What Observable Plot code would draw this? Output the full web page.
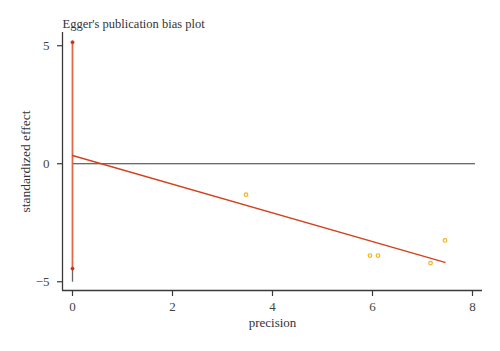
<!DOCTYPE html>
<html>
<head>
<meta charset="utf-8">
<script src="https://cdn.jsdelivr.net/npm/d3@7"></script>
<script src="https://cdn.jsdelivr.net/npm/@observablehq/plot@0.6"></script>
<style>
  html, body { margin: 0; padding: 0; background: #fff; }
  svg { display: block; }
</style>
</head>
<body>
<div id="chart"></div>
<script>
// Study points
const precision = [3.47, 5.95, 6.11, 7.16, 7.45];
const stdEffect = [-1.31, -3.89, -3.89, -4.21, -3.25];
// Egger regression line
const fitX = [0, 7.45];
const fitY = [0.35, -4.18];
// Intercept confidence interval (at precision 0)
const ciX = [0];
const ciLow = [-4.44];
const ciHigh = [5.15];
// Reference line at zero effect
const refX1 = [0];
const refX2 = [8.06];
const refY = [0];
// Ticks
const xTicks = [0, 2, 4, 6, 8];
const yTicks = [-5, 0, 5];
const titleText = "Egger's publication bias plot";
const xLabel = "precision";
const yLabel = "standardized effect";

const xDomain = [-0.2, 8.2];
const yDomain = [-5.37, 5.56];

const points = precision.map((p, i) => ({p, e: stdEffect[i]}));
const fit = fitX.map((x, i) => ({x, y: fitY[i]}));
const ci = ciX.map((x, i) => ({x, lo: ciLow[i], hi: ciHigh[i]}));
const ciEnds = ci.flatMap(d => [{x: d.x, y: d.lo}, {x: d.x, y: d.hi}]);
const ref = refY.map((y, i) => ({y, x1: refX1[i], x2: refX2[i]}));

const axisColor = "#3a3a3a";
const font = "'Liberation Serif', 'DejaVu Serif', serif";

const chart = Plot.plot({
  width: 500,
  height: 351,
  marginLeft: 62,
  marginRight: 18,
  marginTop: 32,
  marginBottom: 61,
  style: {fontFamily: font, fontSize: "12.5px", color: "#444", background: "#fff"},
  x: {domain: xDomain},
  y: {domain: yDomain},
  marks: [
    Plot.axisX({ticks: xTicks, tickSize: 6, tickPadding: 5, label: null, stroke: axisColor, strokeWidth: 1.2, fill: "#444", fontSize: 13}),
    Plot.axisY({ticks: yTicks, tickSize: 5, tickPadding: 8, label: null, stroke: axisColor, strokeWidth: 1.2, fill: "#444", fontSize: 13, tickFormat: d => d < 0 ? "\u2212" + Math.abs(d) : String(d)}),
    Plot.ruleX([xDomain[0]], {stroke: axisColor, strokeWidth: 1.3}),
    Plot.ruleY([yDomain[0]], {stroke: axisColor, strokeWidth: 1.3}),
    Plot.ruleY(ref, {y: "y", x1: "x1", x2: "x2", stroke: axisColor, strokeWidth: 1.2}),
    Plot.ruleX(ci, {x: "x", y1: -5.02, y2: "hi", stroke: "#666", strokeWidth: 1.3}),
    Plot.ruleX(ci, {x: "x", y1: "lo", y2: "hi", stroke: "#E0674C", strokeWidth: 1.5}),
    Plot.dot(ciEnds, {x: "x", y: "y", r: 1.6, fill: "#CC2A1E", stroke: "#CC2A1E", strokeWidth: 0.5}),
    Plot.line(fit, {x: "x", y: "y", stroke: "#D2421F", strokeWidth: 1.4}),
    Plot.dot(points, {x: "p", y: "e", r: 1.8, stroke: "#F3B416", fill: "#fff", strokeWidth: 1.2}),
    Plot.text([titleText], {frameAnchor: "top-left", textAnchor: "start", dy: -13.5, fontSize: 12.5, fill: "#333"}),
    Plot.text([xLabel], {frameAnchor: "bottom", dy: 36, fontSize: 13, fill: "#333"}),
    Plot.text([yLabel], {frameAnchor: "left", textAnchor: "middle", rotate: -90, dx: -37, fontSize: 13.5, fill: "#333"})
  ]
});
document.getElementById("chart").appendChild(chart);
</script>
</body>
</html>
